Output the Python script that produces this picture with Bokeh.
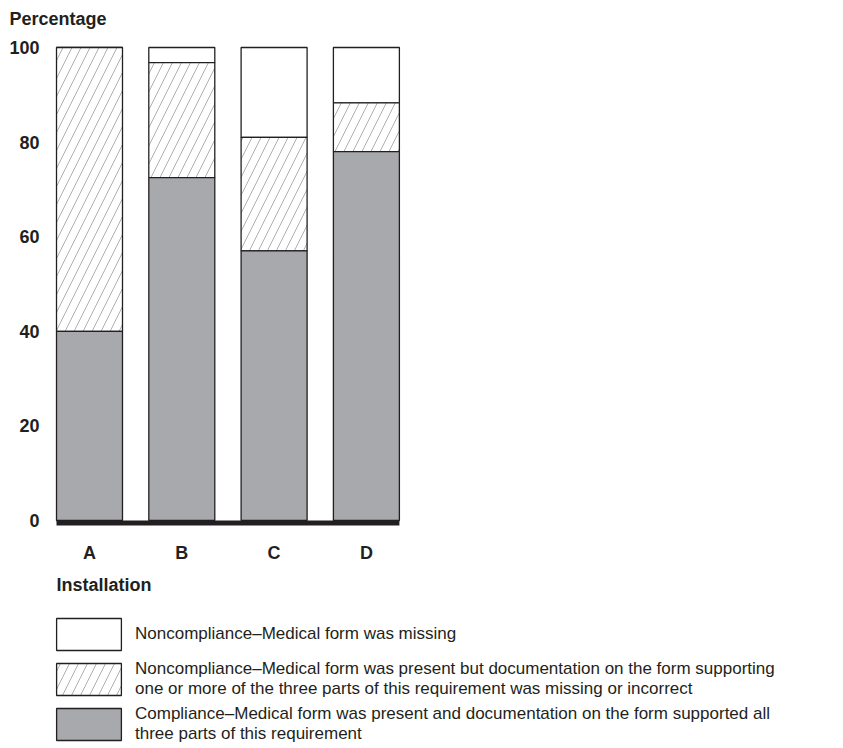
import numpy as np
from bokeh.plotting import figure
from bokeh.models import Range1d, FixedTicker, BoxAnnotation, Label, Legend, LegendItem
from bokeh.embed import file_html
from bokeh.resources import INLINE

# ---- data ----
installations = ["A", "B", "C", "D"]
compliance = [40.0, 72.5, 57.0, 78.0]
noncomp_incorrect = [60.0, 24.3, 24.0, 10.3]
noncomp_missing = [0.0, 3.2, 19.0, 11.7]
y_ticks = [0, 20, 40, 60, 80, 100]
legend_labels = [
    "Noncompliance\u2013Medical form was missing",
    "Noncompliance\u2013Medical form was present but documentation on the form supporting\none or more of the three parts of this requirement was missing or incorrect",
    "Compliance\u2013Medical form was present and documentation on the form supported all\nthree parts of this requirement",
]

FONT = "Liberation Sans"
INK = "#231f20"
GREY = "#a7a9ac"
HATCH_COLOR = "#8c8c8c"

# ---- layout (canvas pixels) ----
W, H = 827, 744
PX_PER_CAT = 92.3          # pixels between bar centres
PX_PER_PCT = 4.73          # pixels per percentage point
X0_PX = 89                 # canvas x of first bar centre
Y0_PX = 520                # canvas y of 0 %
BAR_W = 0.715

x_start = -X0_PX / PX_PER_CAT
x_end = x_start + W / PX_PER_CAT
y_top = Y0_PX / PX_PER_PCT
y_bottom = -(H - Y0_PX) / PX_PER_PCT

def px_x(px):
    return x_start + px / PX_PER_CAT

def px_y(py):
    return (Y0_PX - py) / PX_PER_PCT

xpos = np.arange(len(installations))
c1 = np.array(compliance)
c2 = c1 + np.array(noncomp_incorrect)
c3 = c2 + np.array(noncomp_missing)

p = figure(frame_width=W, frame_height=H,
           x_range=Range1d(x_start, x_end), y_range=Range1d(y_bottom, y_top),
           output_backend="svg", toolbar_location=None,
           min_border_left=0, min_border_right=0, min_border_top=0, min_border_bottom=0)
p.outline_line_color = None
p.xgrid.visible = False
p.ygrid.visible = False

bar_kw = dict(width=BAR_W, line_color=INK, line_width=1.3)
hatch_kw = dict(hatch_pattern="/", hatch_scale=18, hatch_color=HATCH_COLOR, hatch_weight=0.7)
r_missing = p.vbar(x=xpos, bottom=c2, top=c3, fill_color="white", **bar_kw)
r_incorrect = p.vbar(x=xpos, bottom=c1, top=c2, fill_color="white", **hatch_kw, **bar_kw)
r_comp = p.vbar(x=xpos, bottom=0, top=c1, fill_color=GREY, **bar_kw)

chart_left = xpos[0] - BAR_W / 2
chart_right = xpos[-1] + BAR_W / 2

# thick baseline just below zero
p.add_layout(BoxAnnotation(top=0, bottom=-1.05, left=chart_left, right=chart_right,
                           fill_color=INK, fill_alpha=1.0, line_color=None))

for ax in (p.xaxis[0], p.yaxis[0]):
    ax.axis_line_color = None
    ax.major_tick_line_color = None
    ax.minor_tick_line_color = None
    ax.major_tick_out = 0
    ax.major_tick_in = 0
    ax.major_label_text_font = FONT
    ax.major_label_text_font_style = "bold"
    ax.major_label_text_font_size = "18px"
    ax.major_label_text_color = INK

p.yaxis.ticker = FixedTicker(ticks=y_ticks)
p.yaxis.fixed_location = chart_left
p.yaxis.major_label_standoff = 17
p.xaxis.ticker = FixedTicker(ticks=list(xpos))
p.xaxis.major_label_overrides = {int(i): s for i, s in zip(xpos, installations)}
p.xaxis.fixed_location = 0
p.xaxis.major_label_standoff = 22

p.add_layout(Label(x=px_x(9), y=px_y(18), text="Percentage",
                   text_font=FONT, text_font_style="bold", text_font_size="18px",
                   text_color=INK, text_baseline="alphabetic", text_align="left"))
p.add_layout(Label(x=chart_left, y=px_y(584), text="Installation",
                   text_font=FONT, text_font_style="bold", text_font_size="18px",
                   text_color=INK, text_baseline="alphabetic", text_align="left"))

legend = Legend(items=[LegendItem(label=legend_labels[0], renderers=[r_missing]),
                       LegendItem(label=legend_labels[1], renderers=[r_incorrect]),
                       LegendItem(label=legend_labels[2], renderers=[r_comp])],
                location=(48, 0), orientation="vertical",
                glyph_width=81, glyph_height=40, label_height=40, label_standoff=6,
                spacing=5, padding=0, margin=0,
                border_line_color=None, background_fill_alpha=0,
                label_text_font=FONT, label_text_font_size="17px", label_text_color=INK,
                label_text_line_height=0.95)
p.add_layout(legend, "center")

open("out.html", "w").write(file_html(p, INLINE))
